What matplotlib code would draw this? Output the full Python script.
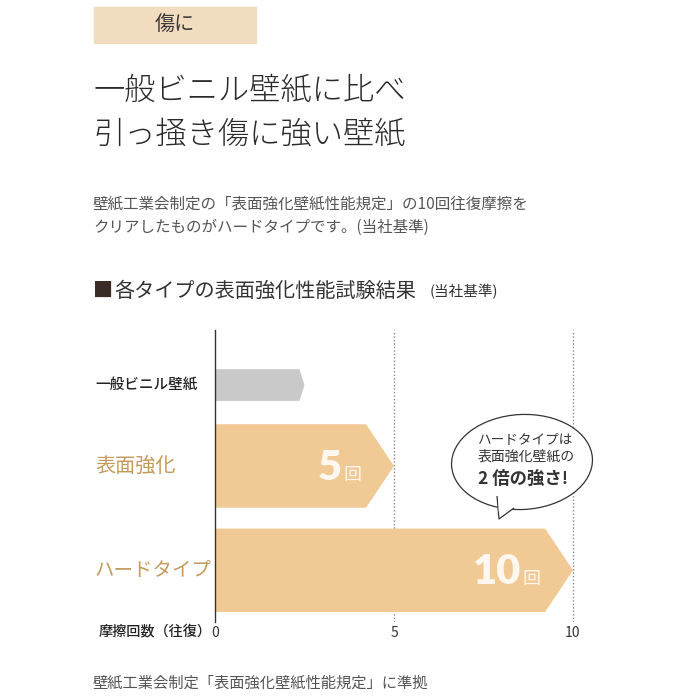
import matplotlib
matplotlib.use('Agg')
import matplotlib.pyplot as plt
from matplotlib.patches import Rectangle, Ellipse, Polygon
from matplotlib.transforms import blended_transform_factory

plt.rcParams['font.family'] = ['Noto Sans CJK JP', 'DejaVu Sans']

# data
categories = ['一般ビニル壁紙', '表面強化', 'ハードタイプ']
counts = [2.5, 5, 10]
count_labels = ['', '5', '10']
xticks = [0, 5, 10]

bar_colors = ['#c9c9c9', '#f0c994', '#f0c994']
label_colors = ['#222222', '#c49a5c', '#c49a5c']
label_sizes = [10.5, 14.5, 14]
bar_pos = [0.66, 1.63, 2.88]
bar_h = [0.38, 1.0, 1.0]
tip = [0.14, 0.78, 0.78]

W = H = 700
fig = plt.figure(figsize=(7, 7), dpi=100)


def fx(px):
    return px / W


def fy(py):
    return 1 - py / H


# header tag
fig.patches.append(Rectangle((fx(94), fy(43)), fx(162), 36 / H,
                             transform=fig.transFigure, color='#f2dcbf', zorder=0))
fig.text(fx(175), fy(25), '傷に', ha='center', va='center', fontsize=14.5, color='#3a3a3a')

# title
fig.text(fx(93), fy(90), '一般ビニル壁紙に比べ', ha='left', va='center', fontsize=22.5,
         color='#2a2a2a', fontweight='light')
fig.text(fx(93), fy(134), '引っ掻き傷に強い壁紙', ha='left', va='center', fontsize=22.5,
         color='#2a2a2a', fontweight='light')

# description
fig.text(fx(93), fy(204), '壁紙工業会制定の「表面強化壁紙性能規定」の10回往復摩擦を',
         ha='left', va='center', fontsize=11.2, color='#555555')
fig.text(fx(93), fy(227), 'クリアしたものがハードタイプです。(当社基準)',
         ha='left', va='center', fontsize=11.2, color='#555555')

# section heading
fig.text(fx(93), fy(291), '■', ha='left', va='center', fontsize=14.5, color='#3b2b26')
fig.text(fx(114), fy(291), '各タイプの表面強化性能試験結果', ha='left', va='center',
         fontsize=14.5, color='#333333')
fig.text(fx(430), fy(292), '(当社基準)', ha='left', va='center', fontsize=10.5, color='#333333')

# chart
ax = fig.add_axes([fx(215), fy(622), 11 * 35.8 / W, (622 - 330) / H])
ax.set_xlim(0, 11)
ax.set_ylim(3.5, 0)
for s in ['top', 'right', 'bottom']:
    ax.spines[s].set_visible(False)
ax.spines['left'].set_color('#333333')
ax.spines['left'].set_linewidth(1)
ax.set_yticks([])
ax.set_xticks(xticks)
ax.set_xticklabels([str(v) for v in xticks])
ax.tick_params(axis='x', length=0, pad=3, labelsize=10, labelcolor='#333333')
for v in xticks[1:]:
    ax.axvline(v, color='#888888', lw=1, ls=(0, (1, 1.5)), zorder=0)

blend = blended_transform_factory(fig.transFigure, ax.transData)
for i, (cat, v) in enumerate(zip(categories, counts)):
    y0 = bar_pos[i] - bar_h[i] / 2
    y1 = bar_pos[i] + bar_h[i] / 2
    poly = Polygon([(0, y0), (v - tip[i], y0), (v, bar_pos[i]), (v - tip[i], y1), (0, y1)],
                   closed=True, facecolor=bar_colors[i], edgecolor='none', zorder=2, clip_on=False)
    ax.add_patch(poly)
    ax.text(fx(95), bar_pos[i], cat, transform=blend, ha='left', va='center',
            fontsize=label_sizes[i], color=label_colors[i],
            fontweight='medium' if i == 0 else 'normal')
    if count_labels[i]:
        ax.annotate('回', xy=(v - 0.9, bar_pos[i]), xytext=(0, -10), textcoords='offset points',
                    ha='right', va='baseline', fontsize=13, color='#fdf7ef', zorder=3)
        ax.annotate(count_labels[i], xy=(v - 0.9, bar_pos[i]), xytext=(-14, -10),
                    textcoords='offset points', ha='right', va='baseline', fontsize=30,
                    fontweight='heavy', family=['Lato', 'DejaVu Sans'], color='#fdf7ef', zorder=3)

fig.text(fx(212), fy(632), '摩擦回数（往復）', ha='right', va='center', fontsize=10.2,
         color='#222222', fontweight='medium')

# speech bubble (figure pixel coordinates)
bubble = Ellipse((fx(522), fy(462)), fx(141), 95 / H, angle=3, transform=fig.transFigure,
                 facecolor='white', edgecolor='#333333', lw=0.9, zorder=5)
fig.patches.append(bubble)
tail = Polygon([(fx(497), fy(496)), (fx(499), fy(519)), (fx(514), fy(508))], closed=False,
               transform=fig.transFigure, facecolor='white', edgecolor='#333333', lw=0.9, zorder=6)
fig.patches.append(tail)
cover = Polygon([(fx(498.2), fy(495)), (fx(498.8), fy(512)), (fx(514), fy(503))], closed=True,
                transform=fig.transFigure, facecolor='white', edgecolor='none', zorder=7)
fig.patches.append(cover)
fig.text(fx(478), fy(439), 'ハードタイプは', ha='left', va='center', fontsize=9.8, color='#333333', zorder=8)
fig.text(fx(478), fy(457), '表面強化壁紙の', ha='left', va='center', fontsize=10, color='#333333', zorder=8)
fig.text(fx(478), fy(479), '2 倍の強さ!', ha='left', va='center', fontsize=12.5, color='#333333',
         fontweight='bold', zorder=8)

# footnote
fig.text(fx(93), fy(683), '壁紙工業会制定「表面強化壁紙性能規定」に準拠', ha='left', va='center',
         fontsize=11, color='#555555')

fig.savefig('out.png', dpi=100, facecolor='white')
